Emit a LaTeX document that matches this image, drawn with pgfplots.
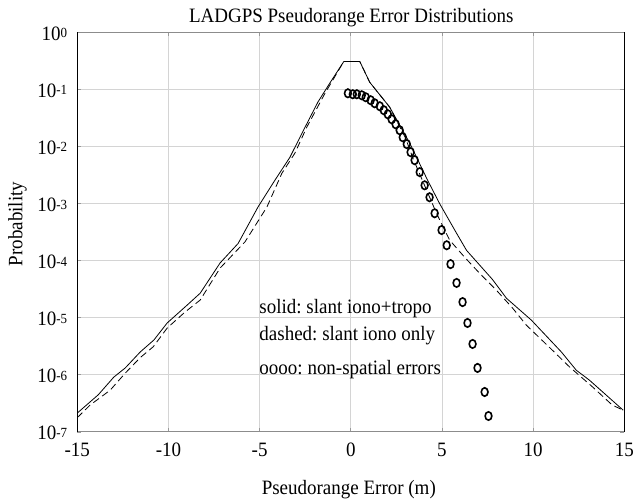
\documentclass[border=0pt]{standalone}
\usepackage{fontspec}
\setmainfont[FakeStretch=0.93]{Liberation Serif}
\usepackage{pgfplots}
\pgfplotsset{compat=1.18}
\usetikzlibrary{calc}
\newcommand{\ex}[1]{10{\fontsize{14}{14}\selectfont\raisebox{2.5bp}{#1}}}
\begin{document}
\frenchspacing
\begin{tikzpicture}[font=\fontsize{20.5}{24}\selectfont\frenchspacing]
\begin{axis}[
 scale only axis, width=547bp, height=399.6bp,
 ymode=log, xmin=-15, xmax=15, ymin=1e-7, ymax=1,
 xtick={-15,-10,-5,0,5,10,15}, xticklabels={-15,-10,-5,0,5,10,15},
 ytick={1e-7,1e-6,1e-5,1e-4,1e-3,1e-2,1e-1,1},
 yticklabels={\ex{-7},\ex{-6},\ex{-5},\ex{-4},\ex{-3},\ex{-2},\ex{-1},\ex{0}},
 yminorticks=false,
 grid=major, major grid style={draw=black!17, line width=0.9bp},
 separate axis lines,
 x axis line style={draw=black!45, line width=1bp},
 y axis line style={draw=black, line width=1bp},
 tick style={draw=black!40, line width=0.8bp}, major tick length=4bp,
 xticklabel style={anchor=base, inner sep=0pt, yshift=-25bp},
 yticklabel style={anchor=base east, inner sep=0pt, xshift=-10bp, yshift=-8bp},
 clip=true,
]
% solid: slant iono+tropo
\addplot[black, line width=0.8bp] coordinates {
(-15,2.14e-7) (-13.85,4.47e-7) (-13.0,9.1e-7) (-12.37,1.32e-6) (-11.55,2.51e-6)
(-10.8,4.07e-6) (-10.07,8.1e-6) (-8.98,1.66e-5) (-8.26,2.69e-5) (-7.17,9.1e-5)
(-6.18,2.0e-4) (-5.09,8.7e-4) (-4.16,2.57e-3) (-3.34,6.46e-3) (-2.68,0.0170)
(-1.8,0.0603) (-1.15,0.129) (-0.38,0.309) (0.49,0.309) (1.04,0.133) (2.13,0.049)
(3.23,0.0115) (4.21,2.57e-3) (4.87,1.0e-3) (5.8,3.02e-4) (6.35,1.51e-4)
(7.77,4.68e-5) (8.54,2.19e-5) (9.9,9.1e-6) (11.55,2.51e-6) (12.37,1.2e-6)
(13.08,8.1e-7) (14.94,2.4e-7)
};
% dashed: slant iono only
\addplot[black, line width=0.8bp, dash pattern=on 7bp off 4bp] coordinates {
(-15,1.78e-7) (-14.3,2.95e-7) (-13.2,5.37e-7) (-12.37,1.07e-6) (-11.55,2.0e-6)
(-10.84,3.09e-6) (-10.07,6.6e-6) (-9.09,1.26e-5) (-8.26,2.04e-5) (-7.17,7.4e-5)
(-5.8,2.14e-4) (-4.6,8.7e-4) (-3.78,3.39e-3) (-3.07,7.6e-3) (-2.41,0.0219)
(-1.42,0.0851) (-0.38,0.309) (0.49,0.309) (1.04,0.133) (2.13,0.049) (3.0,0.0141)
(3.4,6.3e-3) (4.7,6.76e-4) (5.42,2.29e-4) (6.24,1.15e-4) (7.06,6.03e-5)
(7.99,3.02e-5) (8.87,1.48e-5) (9.63,7.4e-6) (11.06,2.69e-6) (11.99,1.38e-6)
(13.25,6.17e-7) (14.34,2.95e-7) (14.94,2.4e-7)
};
% oooo: non-spatial errors
\addplot[only marks, mark=o, black, mark size=4.2bp,
  mark options={xscale=0.8, line width=1.6bp}] coordinates {
(-0.16,0.0855) (0.11,0.0822) (0.33,0.0822) (0.60,0.0789) (0.82,0.0728)
(1.09,0.0646) (1.31,0.0571) (1.59,0.0507) (1.81,0.0432) (2.03,0.0367)
(2.24,0.0300) (2.46,0.0245) (2.68,0.0193) (2.85,0.0145) (3.07,0.0110)
(3.28,0.00794) (3.50,0.00575) (3.78,0.00355) (4.05,0.00209) (4.32,0.00129)
(4.60,6.76e-4) (4.98,3.43e-4) (5.26,1.86e-4) (5.47,8.7e-5) (5.80,4.07e-5)
(6.13,1.88e-5) (6.40,8.1e-6) (6.68,3.47e-6) (6.95,1.32e-6) (7.34,5.0e-7)
(7.55,1.9e-7)
};
\node[anchor=base west, inner sep=0pt] at (rel axis cs:0.3327,0.2975) {solid: slant iono+tropo};
\node[anchor=base west, inner sep=0pt] at (rel axis cs:0.3327,0.2275) {dashed: slant iono only};
\node[anchor=base west, inner sep=0pt] at (rel axis cs:0.3327,0.1425) {oooo: non-spatial errors};
\coordinate (bl) at (rel axis cs:0,0);
\coordinate (tr) at (rel axis cs:1,1);
\coordinate (tc) at (rel axis cs:0.5,1);
\coordinate (bc) at (rel axis cs:0.5,0);
\coordinate (lc) at (rel axis cs:0,0.5);
\end{axis}
\node[anchor=base, inner sep=0pt] at ($(tc)+(0.5bp,10bp)$) {LADGPS Pseudorange Error Distributions};
\node[anchor=base, inner sep=0pt] at ($(bc)+(-2bp,-63bp)$) {Pseudorange Error (m)};
\node[anchor=base, inner sep=0pt, rotate=90] at ($(lc)+(-55bp,8bp)$) {Probability};
\pgfresetboundingbox
\path ($(bl)+(-77.3bp,-70.3bp)$) rectangle ($(tr)+(11.7bp,32.3bp)$);
\end{tikzpicture}
\end{document}
